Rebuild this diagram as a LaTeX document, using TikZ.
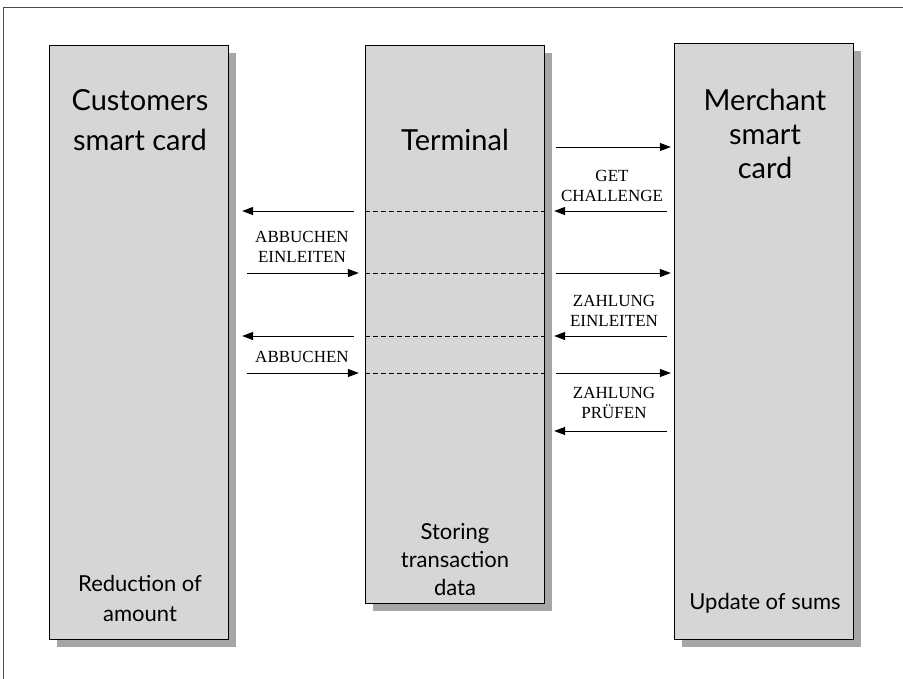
\documentclass[tikz,border=0pt]{standalone}
\usepackage{fontspec}
\setmainfont{Liberation Serif}
\newfontfamily\unitfont{Lato}
\usetikzlibrary{arrows.meta,shadows,positioning}

\tikzset{
  unit/.style={draw=black, line width=1.3pt, fill=gray!32, inner sep=0pt,
    minimum width=179pt, anchor=north,
    drop shadow={shadow xshift=7pt, shadow yshift=-7pt, fill=gray!70, opacity=1}},
  title/.style={font=\unitfont\fontsize{29}{36}\selectfont, align=center},
  foot/.style={font=\unitfont\fontsize{22}{28}\selectfont, align=center},
  cmd/.style={font=\fontsize{17}{20}\selectfont, align=center},
  msg/.style={line width=1pt, -{Triangle[length=11pt,width=8pt]}},
  through/.style={line width=1pt, dash pattern=on 5pt off 3pt},
}

\begin{document}
\begin{tikzpicture}[x=1pt, y=-1pt]
\useasboundingbox (0,0) rectangle (903,678);
\clip (0,0) rectangle (903,678);
\draw[line width=1pt, black!70] (3,700) -- (3,7) -- (920,7);

% the three parties
\node[unit, minimum height=594pt] (cust) at (139,45) {};
\node[unit, minimum height=558pt] (term) at (455,45) {};
\node[unit, minimum height=596pt] (merch) at (764,43) {};

\node[title, align=center] (custname) at (140,120) {Customers\\[4pt]smart card};
\node[title] (termname) at (455,140) {Terminal};
\node[title] (merchname) at (765,134) {Merchant\\[-2pt]smart\\[-2pt]card};

\node[foot] (custnote) at (140,598) {Reduction of\\[2pt]amount};
\node[foot] (termnote) at (455,560) {Storing\\transaction\\data};
\node[foot] (merchnote) at (765,603) {Update of sums};

% message rows
\foreach \y [count=\i] in {147,211,273,336,373,431}
  \coordinate (row\i) at (0,\y);

\draw[msg] ([xshift=11pt]term.east |- row1) -- ([xshift=-3pt]merch.west |- row1);
\foreach \r in {2,4}{
  \draw[msg] ([xshift=-7pt]merch.west |- row\r) -- ([xshift=9pt]term.east |- row\r);
  \draw[msg] ([xshift=-11pt]term.west |- row\r) -- ([xshift=13pt]cust.east |- row\r);
}
\foreach \r in {3,5}{
  \draw[msg] ([xshift=18pt]cust.east |- row\r) -- ([xshift=-6pt]term.west |- row\r);
  \draw[msg] ([xshift=11pt]term.east |- row\r) -- ([xshift=-3pt]merch.west |- row\r);
}
\draw[msg] ([xshift=-7pt]merch.west |- row6) -- ([xshift=9pt]term.east |- row6);
\foreach \r in {2,...,5}
  \draw[through] (term.west |- row\r) -- (term.east |- row\r);

\node[cmd] (getch) at (612,186) {GET\\CHALLENGE};
\node[cmd] (abbein) at (302,247) {ABBUCHEN\\EINLEITEN};
\node[cmd] (zahein) at (614,311) {ZAHLUNG\\EINLEITEN};
\node[cmd] (abb) at (302,357) {ABBUCHEN};
\node[cmd] (zahpr) at (614,403) {ZAHLUNG\\PRÜFEN};
\end{tikzpicture}
\end{document}
